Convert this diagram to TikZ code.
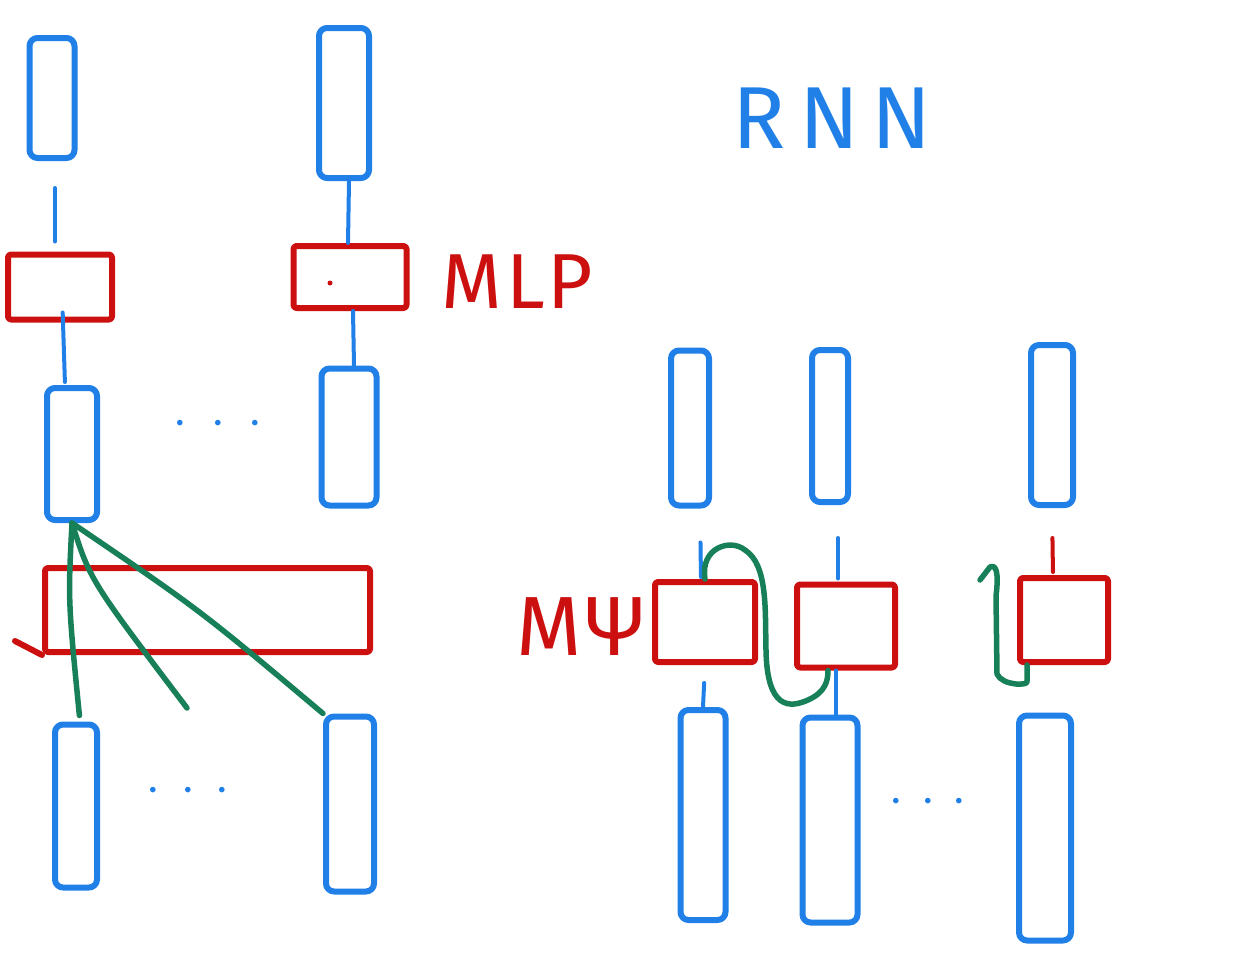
\documentclass[tikz,border=0pt]{standalone}
\usepackage{fontspec}
\newfontfamily\hand{Fira Sans}
\definecolor{myblue}{RGB}{32,128,232}
\definecolor{myred}{RGB}{204,16,16}
\definecolor{mygreen}{RGB}{24,128,88}
\begin{document}
\begin{tikzpicture}[x=1pt,y=-1pt,line cap=round,line join=round,
  vec/.style={draw=myblue,line width=6pt,rounded corners=8pt,inner sep=0pt},
  mlp/.style={draw=myred,line width=6pt,rounded corners=3pt,inner sep=0pt},
  bl/.style={draw=myblue,line width=4pt},
  rl/.style={draw=myred,line width=6pt},
  gl/.style={draw=mygreen,line width=5.5pt},
  dots/.style={text=myblue,font=\hand\fontsize{40pt}{40pt}\selectfont,inner sep=0pt}]
\useasboundingbox (0,0) rectangle (1240,972);
% ---- left column 1
\node[vec,minimum width=45pt,minimum height=120pt] (a1) at (52,98) {};
\node[mlp,minimum width=104pt,minimum height=65pt] (m1) at (60,287) {};
\node[vec,minimum width=50pt,minimum height=132pt] (h1) at (72,454) {};
% ---- left column 2
\node[vec,minimum width=50pt,minimum height=150pt] (a2) at (344,103) {};
\node[mlp,minimum width=113pt,minimum height=62pt] (m2) at (350,277) {};
\node[vec,minimum width=55pt,minimum height=137pt] (h2) at (349,437) {};
\fill[myred] (330,283) circle (2.5pt);
\node[dots] (d1) at (218,428) {·\hspace{28pt}·\hspace{28pt}·};
% ---- big layer
\node[mlp,minimum width=325pt,minimum height=84pt] (big) at (207.5,610) {};
\draw[rl] (big.south west) -- ++(-27,-14);
% ---- bottom inputs left
\node[vec,minimum width=42pt,minimum height=163pt] (x1) at (76,806) {};
\node[vec,minimum width=48pt,minimum height=175pt] (x2) at (350,804) {};
\node[dots] (d2) at (188,795) {·\hspace{25pt}·\hspace{25pt}·};
% ---- stubs left
\draw[bl,shorten <=27pt,shorten >=10pt] ([xshift=3pt]a1.south) -- ([xshift=-5pt]m1.north);
\draw[bl,shorten <=-10pt,shorten >=3pt] ([xshift=3pt]m1.south) -- ([xshift=-7pt]h1.north);
\draw[bl] ([xshift=5pt]a2.south) -- ([xshift=-2pt]m2.north);
\draw[bl] ([xshift=3pt]m2.south) -- ([xshift=5pt]h2.north);
% ---- green connections left
\coordinate (g2) at (187,708);
\draw[gl,shorten >=6pt] (h1.south) .. controls (68,600) .. ([xshift=4pt]x1.north);
\draw[gl] (h1.south) .. controls (90,580) .. (g2);
\draw[gl] (h1.south) .. controls (200,610) .. (x2.north west);
% ---- labels
\node[text=myred,font=\hand\fontsize{78pt}{78pt}\selectfont,inner sep=0pt] (lmlp) at (517,282) {M\hspace{4pt}L\hspace{2pt}P};
\node[text=myblue,font=\hand\fontsize{88pt}{88pt}\selectfont,inner sep=0pt] (lrnn) at (832,118) {R\hspace{14pt}N\hspace{12pt}N};
\node[text=myred,font=\hand\fontsize{84pt}{84pt}\selectfont,inner sep=0pt] (lpsi) at (580,627) {M\hspace{4pt}Ψ};
% ---- right: top outputs
\node[vec,minimum width=38pt,minimum height=155pt] (t1) at (690,428) {};
\node[vec,minimum width=36pt,minimum height=152pt] (t2) at (830,426) {};
\node[vec,minimum width=42pt,minimum height=160pt] (t3) at (1052,425) {};
% ---- right: MPsi boxes
\node[mlp,minimum width=100pt,minimum height=80pt] (p1) at (705,622) {};
\node[mlp,minimum width=98pt,minimum height=83pt] (p2) at (846,626) {};
\node[mlp,minimum width=88pt,minimum height=84pt] (p3) at (1064,620) {};
% ---- right: bottom inputs
\node[vec,minimum width=45pt,minimum height=210pt] (b1) at (703,815) {};
\node[vec,minimum width=55pt,minimum height=205pt] (b2) at (830,820) {};
\node[vec,minimum width=52pt,minimum height=225pt] (b3) at (1045,828) {};
\node[dots] (d3) at (928,806) {·\hspace{22pt}·\hspace{22pt}·};
% ---- right stubs
\draw[bl,shorten <=34pt,shorten >=2pt] ([xshift=10pt]t1.south) -- ([xshift=-4pt]p1.north);
\draw[bl,shorten <=33pt,shorten >=3pt] ([xshift=8pt]t2.south) -- ([xshift=-8pt]p2.north);
\draw[rl,line width=4pt,shorten <=30pt,shorten >=3pt] (t3.south) -- ([xshift=-11pt]p3.north);
\draw[bl,shorten <=18pt] (p1.south) -- (b1.north);
\draw[bl] ([xshift=-10pt]p2.south) -- ([xshift=6pt]b2.north);
% ---- green recurrent links
\draw[gl] (p1.north) .. controls (700,548) and (730,538) .. (745,550)
  .. controls (768,565) and (765,610) .. (766,650)
  .. controls (767,710) and (790,708) .. (808,700)
  .. controls (826,692) and (828,680) .. ([xshift=-18pt]p2.south);
\draw[gl] ([xshift=10pt]p3.south west) -- ++(0,16)
  .. controls (1030,686) and (1002,686) .. (997,674)
  -- (996,596) .. controls (999,572) and (996,564) .. (990,567) -- (980,580);
\end{tikzpicture}
\end{document}
